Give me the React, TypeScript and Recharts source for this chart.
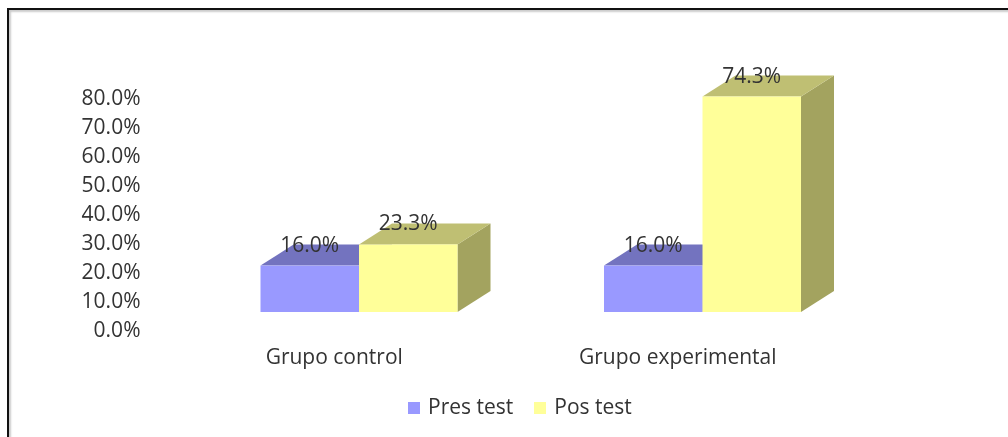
import { BarChart, Bar, XAxis, YAxis, Legend, LabelList } from 'recharts';

const categories = ['Grupo control', 'Grupo experimental'];
const presTest = [16.0, 16.0];
const posTest = [23.3, 74.3];
const yTicks = [0, 10, 20, 30, 40, 50, 60, 70, 80];

const data = categories.map((name, i) => ({ name, presTest: presTest[i], posTest: posTest[i] }));

const fontFamily = '"Open Sans", sans-serif';
const fontSize = 21;
const textColor = '#333';
const depthX = 33;
const depthY = 21;

const fmtPct = (v: number) => `${v.toFixed(1)}%`;

// front face plus the top and side faces that give the bar its 3D look
function Box3D({ x, y, width, height, fill, topFill, sideFill }: any) {
  const r = x + width;
  const b = y + height;
  return (
    <g>
      <polygon
        points={`${r},${y} ${r + depthX},${y - depthY} ${r + depthX},${b - depthY} ${r},${b}`}
        fill={sideFill}
      />
      <polygon
        points={`${x},${y} ${r},${y} ${r + depthX},${y - depthY} ${x + depthX},${y - depthY}`}
        fill={topFill}
      />
      <rect x={x} y={y} width={width} height={height} fill={fill} />
    </g>
  );
}

export default function App() {
  return (
    <div style={{ position: 'absolute', left: 0, top: 0, width: 1008, height: 437, background: '#fff', overflow: 'hidden' }}>
      <div
        style={{
          position: 'absolute',
          left: 7,
          top: 8,
          width: 1008,
          height: 440,
          borderTop: '2px solid #111',
          borderLeft: '2px solid #111',
          boxShadow: 'inset 2px 2px 2px #ccc',
        }}
      />
      <div style={{ position: 'absolute', left: 0, top: 0, filter: 'blur(0.5px)' }}>
        <BarChart
          width={1008}
          height={437}
          data={data}
          margin={{ top: 80, right: 133.5, bottom: 57, left: 0 }}
          barSize={98.5}
          barGap={0}
        >
          <XAxis
            dataKey="name"
            axisLine={false}
            tickLine={false}
            height={40}
            interval={0}
            tickMargin={31}
            tick={{ fontSize, fill: textColor, fontFamily, dx: -25 }}
          />
          <YAxis
            domain={[0, 80]}
            ticks={yTicks}
            interval={0}
            width={187.5}
            axisLine={false}
            tickLine={false}
            tickMargin={41}
            tickFormatter={fmtPct}
            tick={{ fontSize, fill: textColor, fontFamily, dy: 18 }}
          />
          <Legend
            layout="horizontal"
            align="left"
            verticalAlign="bottom"
            iconType="square"
            iconSize={12}
            itemSorter={null}
            wrapperStyle={{ left: 408, top: 392, width: 260, fontSize, fontFamily, color: textColor }}
            formatter={(value) => (
              <span style={{ color: textColor, marginLeft: 4, marginRight: 11 }}>{value}</span>
            )}
          />
          <Bar
            dataKey="presTest"
            name="Pres test"
            fill="#9999ff"
            isAnimationActive={false}
            shape={(props: any) => <Box3D {...props} topFill="#7373bf" sideFill="#7373bf" />}
          >
            <LabelList
              dataKey="presTest"
              position="top"
              offset={14}
              formatter={fmtPct}
              style={{ fontSize, fill: textColor, fontFamily }}
            />
          </Bar>
          <Bar
            dataKey="posTest"
            name="Pos test"
            fill="#ffff99"
            isAnimationActive={false}
            shape={(props: any) => <Box3D {...props} topFill="#bfbf73" sideFill="#a3a35f" />}
          >
            <LabelList
              dataKey="posTest"
              position="top"
              offset={14}
              formatter={fmtPct}
              style={{ fontSize, fill: textColor, fontFamily }}
            />
          </Bar>
        </BarChart>
      </div>
    </div>
  );
}
